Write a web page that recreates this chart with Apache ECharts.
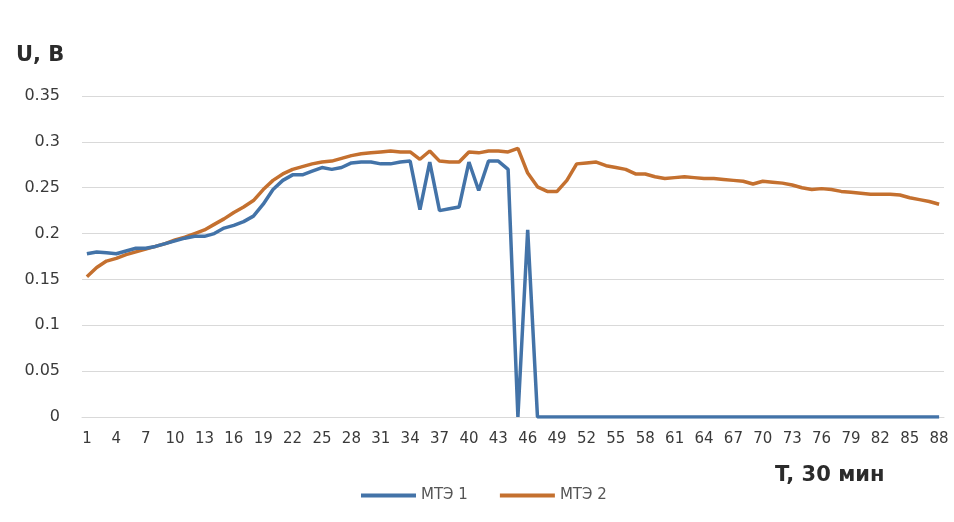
<!DOCTYPE html>
<html>
<head>
<meta charset="utf-8">
<script src="https://cdn.jsdelivr.net/npm/echarts@6/dist/echarts.min.js"></script>
<style>html,body{margin:0;padding:0;background:#fff}#c{width:954px;height:522px}</style>
</head>
<body>
<div id="c"></div>
<script>
// Categories: time index 1..88
const categories = [];
for (let i = 1; i <= 88; i++) categories.push(String(i));

const seriesNames = ['МТЭ 1', 'МТЭ 2'];

const mte1 = [
  0.178, 0.180, 0.179, 0.178, 0.181, 0.184, 0.184, 0.186, 0.189, 0.192,
  0.195, 0.197, 0.197, 0.200, 0.206, 0.209, 0.213, 0.219, 0.232, 0.248,
  0.258, 0.264, 0.264, 0.268, 0.272, 0.270, 0.272, 0.277, 0.278, 0.278,
  0.276, 0.276, 0.278, 0.279, 0.226, 0.278, 0.225, 0.227, 0.229, 0.278,
  0.247, 0.279, 0.279, 0.270, 0.000, 0.204, 0.000, 0.000, 0.000, 0.000,
  0.000, 0.000, 0.000, 0.000, 0.000, 0.000, 0.000, 0.000, 0.000, 0.000,
  0.000, 0.000, 0.000, 0.000, 0.000, 0.000, 0.000, 0.000, 0.000, 0.000,
  0.000, 0.000, 0.000, 0.000, 0.000, 0.000, 0.000, 0.000, 0.000, 0.000,
  0.000, 0.000, 0.000, 0.000, 0.000, 0.000, 0.000, 0.000
];

const mte2 = [
  0.153, 0.163, 0.170, 0.173, 0.177, 0.180, 0.183, 0.186, 0.189, 0.193,
  0.196, 0.200, 0.204, 0.210, 0.216, 0.223, 0.229, 0.236, 0.248, 0.258,
  0.265, 0.270, 0.273, 0.276, 0.278, 0.279, 0.282, 0.285, 0.287, 0.288,
  0.289, 0.290, 0.289, 0.289, 0.281, 0.290, 0.279, 0.278, 0.278, 0.289,
  0.288, 0.290, 0.290, 0.289, 0.293, 0.266, 0.251, 0.246, 0.246, 0.258,
  0.276, 0.277, 0.278, 0.274, 0.272, 0.270, 0.265, 0.265, 0.262, 0.260,
  0.261, 0.262, 0.261, 0.260, 0.260, 0.259, 0.258, 0.257, 0.254, 0.257,
  0.256, 0.255, 0.253, 0.250, 0.248, 0.249, 0.248, 0.246, 0.245, 0.244,
  0.243, 0.243, 0.243, 0.242, 0.239, 0.237, 0.235, 0.232
];

const yTicks = [0, 0.05, 0.1, 0.15, 0.2, 0.25, 0.3, 0.35];

const FONT = '"DejaVu Sans", sans-serif';
const chart = echarts.init(document.getElementById('c'));
chart.setOption({
  animation: false,
  backgroundColor: '#ffffff',
  textStyle: { fontFamily: FONT },
  grid: { left: 82, right: 10, top: 96, bottom: 105 },
  legend: {
    data: seriesNames,
    top: 483,
    left: 356,
    itemGap: 32,
    itemWidth: 55,
    itemHeight: 4,
    icon: 'rect',
    textStyle: { fontFamily: FONT, fontSize: 15, color: '#555555' }
  },
  xAxis: {
    type: 'category',
    data: categories,
    boundaryGap: true,
    axisLine: { show: true, lineStyle: { color: '#d9d9d9', width: 1 } },
    axisTick: { show: false },
    axisLabel: { interval: 2, margin: 15, fontSize: 15, color: '#3a3a3a', fontFamily: FONT }
  },
  yAxis: {
    type: 'value',
    min: yTicks[0],
    max: yTicks[yTicks.length - 1],
    interval: 0.05,
    axisLine: { show: false },
    axisTick: { show: false },
    splitLine: { lineStyle: { color: '#d9d9d9', width: 1 } },
    axisLabel: {
      margin: 22, fontSize: 16, color: '#3a3a3a', fontFamily: FONT,
      formatter: v => String(parseFloat(v.toFixed(2)))
    }
  },
  graphic: [
    { type: 'text', left: 16, top: 45, style: { text: 'U, B', fontSize: 21, fontWeight: 'bold', fill: '#2b2b2b', fontFamily: FONT } },
    { type: 'text', left: 775, top: 465, style: { text: 'T, 30 мин', fontSize: 21, fontWeight: 'bold', fill: '#2b2b2b', fontFamily: FONT } }
  ],
  series: [
    { name: seriesNames[0], type: 'line', data: mte1, showSymbol: false, symbol: 'none',
      lineStyle: { color: '#4373a8', width: 3.5 }, itemStyle: { color: '#4373a8' }, z: 3 },
    { name: seriesNames[1], type: 'line', data: mte2, showSymbol: false, symbol: 'none',
      lineStyle: { color: '#c4702f', width: 3.5 }, itemStyle: { color: '#c4702f' }, z: 2 }
  ]
});
</script>
</body>
</html>
